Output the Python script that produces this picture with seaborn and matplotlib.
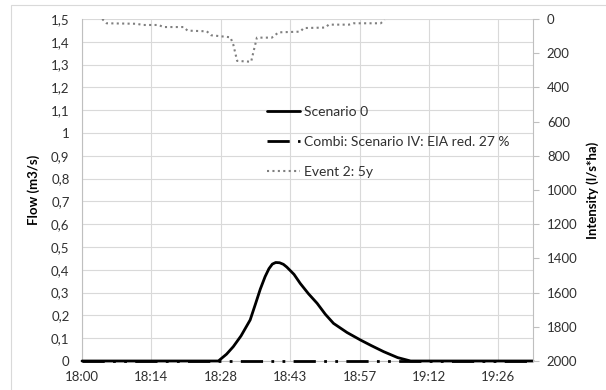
import matplotlib
matplotlib.use("Agg")
import matplotlib.pyplot as plt
import seaborn as sns
import pandas as pd
from matplotlib.patches import Rectangle
from matplotlib.lines import Line2D

# ---- data (minutes after 18:00) ----
scen0_t = [0, 28.3, 30, 31.4, 33, 34.9, 36, 37, 38.0, 38.8, 39.5, 40.2, 41.0, 41.8, 42.5,
           44, 45.3, 47, 48.8, 50.5, 52.2, 55, 57.8, 60, 62.6, 65.5, 68.2, 93.6]
scen0_q = [0, 0, 0.03, 0.063, 0.11, 0.18, 0.25, 0.315, 0.37, 0.405, 0.425, 0.432, 0.431,
           0.424, 0.412, 0.38, 0.34, 0.295, 0.253, 0.205, 0.165, 0.125, 0.092, 0.068,
           0.041, 0.015, 0, 0]
combi_t = [0, 93.6]
combi_q = [0, 0]
rain_t = [4.2, 5.1, 11.3, 12.7, 15.9, 16.9, 21.1, 21.9, 25.9, 26.8, 30.8, 31.4, 32.2,
          35.1, 35.6, 36.3, 39.4, 40.8, 45.3, 46.0, 50.5, 51.2, 55.4, 56.4, 62.0, 62.8]
rain_i = [0, 25, 28, 35, 35, 47, 47, 68, 72, 95, 107, 150, 245, 250, 190, 109, 109, 78,
          74, 53, 50, 33, 33, 25, 25, 5]

xticks = [0, 14.4, 28.8, 43.2, 57.6, 72.0, 86.4]
xticklabels = ["18:00", "18:14", "18:28", "18:43", "18:57", "19:12", "19:26"]
yticks = [0, 0.1, 0.2, 0.3, 0.4, 0.5, 0.6, 0.7, 0.8, 0.9, 1.0, 1.1, 1.2, 1.3, 1.4, 1.5]
yticklabels = ["0", "0,1", "0,2", "0,3", "0,4", "0,5", "0,6", "0,7", "0,8", "0,9", "1",
               "1,1", "1,2", "1,3", "1,4", "1,5"]
y2ticks = list(range(0, 2001, 200))

labels = ["Scenario 0", "Combi: Scenario IV: EIA red. 27 %", "Event 2: 5y"]

sns.set_theme(style="white")
plt.rcParams['font.family'] = ['Lato', 'DejaVu Sans']
FS = 9.5
TXT = "#303030"

fig = plt.figure(figsize=(6.06, 3.90), dpi=100)
W, H = 606, 390
ax = fig.add_axes([82 / W, (H - 361) / H, 451 / W, 342 / H])

# outer chart border
fig.patches.append(Rectangle((11 / W, -0.1), 2, (H - 5) / H + 0.1, transform=fig.transFigure,
                             fill=False, edgecolor="#d9d9d9", linewidth=0.8))

df0 = pd.DataFrame({"t": scen0_t, "q": scen0_q})
dfc = pd.DataFrame({"t": combi_t, "q": combi_q})
dfr = pd.DataFrame({"t": rain_t, "i": rain_i})

sns.lineplot(data=df0, x="t", y="q", ax=ax, color="black", linewidth=2.0, clip_on=False,
             zorder=4)
sns.lineplot(data=dfc, x="t", y="q", ax=ax, color="black", linewidth=2.0, clip_on=False,
             dashes=False, zorder=5)
ax.lines[-1].set_dashes((8, 3, 1, 3, 1, 3))

ax.set_xlim(0, 93.6)
ax.set_ylim(0, 1.5)
ax.set_xticks(xticks)
ax.set_xticklabels(xticklabels)
ax.set_yticks(yticks)
ax.set_yticklabels(yticklabels)
ax.grid(True, color="#d9d9d9", linewidth=0.8)
ax.set_axisbelow(True)
for s in ["top", "right"]:
    ax.spines[s].set_visible(False)
for s in ["left", "bottom"]:
    ax.spines[s].set_color("#bfbfbf")
    ax.spines[s].set_linewidth(0.8)
ax.tick_params(axis="both", length=0, labelsize=FS, labelcolor=TXT)
ax.tick_params(axis="y", pad=9)
ax.tick_params(axis="x", pad=7)
ax.set_xlabel("")
ax.set_ylabel("Flow (m3/s)", fontsize=FS, fontweight="bold", color="black", labelpad=8)

ax2 = ax.twinx()
sns.lineplot(data=dfr, x="t", y="i", ax=ax2, color="#7f7f7f", linewidth=1.5, zorder=3)
ax2.lines[-1].set_dashes((1, 1.6))
ax2.set_ylim(2000, 0)
ax2.set_yticks(y2ticks)
ax2.set_yticklabels([str(v) for v in y2ticks])
ax2.grid(False)
for s in ["top", "left", "bottom"]:
    ax2.spines[s].set_visible(False)
ax2.spines["right"].set_color("#bfbfbf")
ax2.spines["right"].set_linewidth(0.8)
ax2.tick_params(axis="y", length=4, width=0.8, color="#bfbfbf", labelsize=FS,
                labelcolor=TXT, pad=6)
ax2.set_xlabel("")
ax2.set_ylabel("Intensity (l/s*ha)", fontsize=FS, fontweight="bold", color="black",
               labelpad=6)

handles = [
    Line2D([], [], color="black", linewidth=2.0),
    Line2D([], [], color="black", linewidth=2.0, dashes=(8, 3, 1, 3, 1, 3)),
    Line2D([], [], color="#7f7f7f", linewidth=1.5, dashes=(1, 1.6)),
]
leg = ax2.legend(handles, labels, loc="upper left", bbox_to_anchor=(0.41, 0.745),
                 frameon=False, fontsize=10, handlelength=2.4, handletextpad=0.25,
                 labelspacing=1.3, borderpad=0, borderaxespad=0)
for t in leg.get_texts():
    t.set_color(TXT)

fig.savefig("out.png", dpi=100)
